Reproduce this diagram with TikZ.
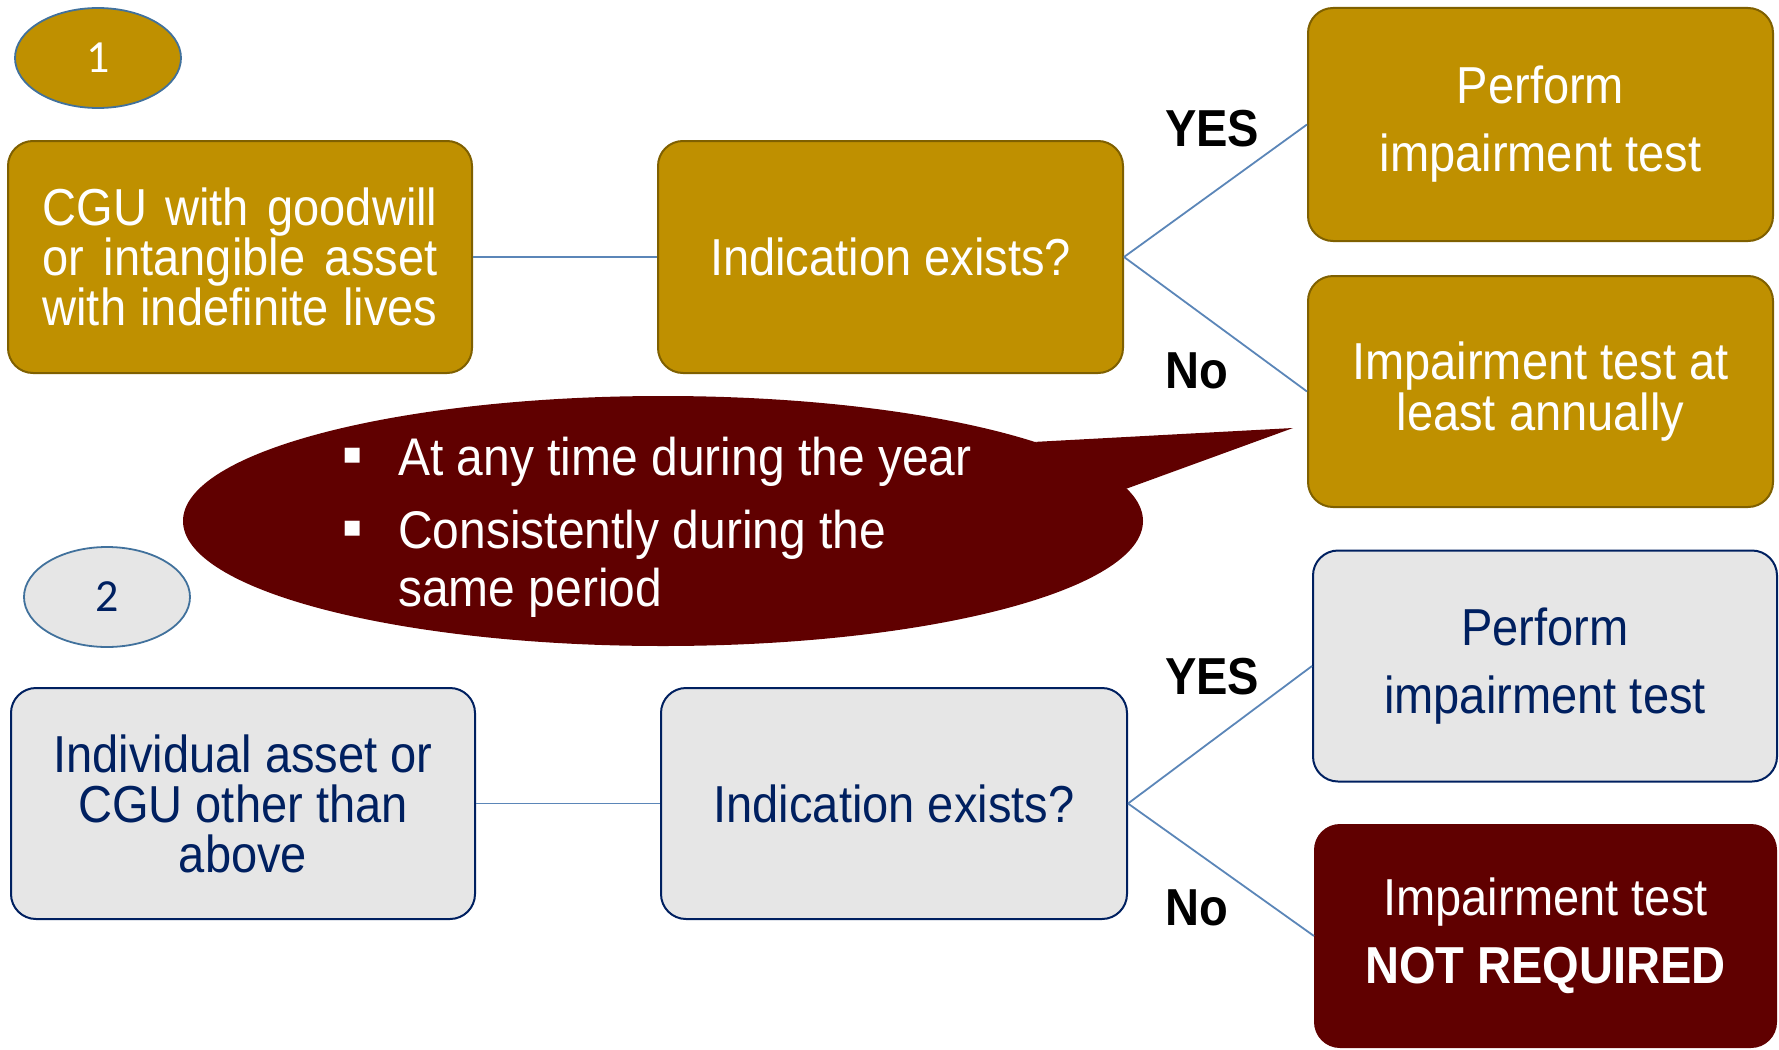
\documentclass[tikz,border=0pt]{standalone}
\usepackage{fontspec}
\setmainfont[FakeStretch=0.905]{Liberation Sans}
\newfontfamily\numfont{Carlito}
\newfontfamily\symfont{DejaVu Sans}
\usetikzlibrary{shapes.geometric}
\definecolor{gold}{HTML}{BF9000}
\definecolor{goldline}{HTML}{7F6000}
\definecolor{maroon}{HTML}{600000}
\definecolor{navy}{HTML}{002060}
\definecolor{boxgray}{HTML}{E6E6E6}
\definecolor{linkblue}{HTML}{5B86B8}
\definecolor{ellline}{HTML}{41719C}
\tikzset{
  basebox/.style={rounded corners=25pt, line width=2pt, align=center, inner sep=0pt},
  goldbox/.style={basebox, draw=goldline, fill=gold, text=white},
  graybox/.style={basebox, draw=navy, fill=boxgray, text=navy},
  redbox/.style={basebox, draw=maroon, fill=maroon, text=white},
  link/.style={draw=linkblue, line width=1.8pt},
  lbl/.style={anchor=west, inner sep=0pt, font=\fontsize{52}{52}\selectfont\bfseries},
  numell/.style={ellipse, draw=ellline, line width=1.8pt, minimum width=166pt, minimum height=100pt, inner sep=0pt, font=\numfont\fontsize{46}{46}\selectfont},
  bultext/.style={anchor=base west, inner sep=0pt, text=white, font=\fontsize{53}{53}\selectfont},
  bulmark/.style={inner sep=0pt, text=white, font=\symfont\fontsize{30}{30}\selectfont}
}
\begin{document}
\begin{tikzpicture}[x=1pt,y=-1pt]
\useasboundingbox (0,0) rectangle (1779,1049);

% numbered ellipses
\node[numell, fill=gold, text=white] (e1) at (98,58) {1};
\node[numell, fill=boxgray, text=navy] (e2) at (107,597) {2};

% row 1
\node[goldbox, minimum width=464pt, minimum height=232pt, font=\fontsize{52}{50}\selectfont] (cgu) at (240,257)
  {\makebox[395pt][s]{CGU with goodwill}\\\makebox[395pt][s]{or intangible asset}\\\makebox[395pt][s]{with indefinite lives}};
\node[goldbox, minimum width=465pt, minimum height=232pt, font=\fontsize{52}{50}\selectfont] (ind1) at (890.5,257) {Indication exists?};
\node[goldbox, minimum width=465pt, minimum height=233pt, font=\fontsize{52}{68}\selectfont] (perf1) at (1540.5,124.5) {Perform\\impairment test};
\node[goldbox, minimum width=465pt, minimum height=231pt, font=\fontsize{52}{51}\selectfont] (imp1) at (1540.5,391.5) {Impairment test at\\least annually};

% row 2
\node[graybox, minimum width=464pt, minimum height=231pt, font=\fontsize{52}{50}\selectfont] (indiv) at (243,803.5) {Individual asset or\\CGU other than\\above};
\node[graybox, minimum width=466pt, minimum height=231pt, font=\fontsize{52}{50}\selectfont] (ind2) at (894,803.5) {Indication exists?};
\node[graybox, minimum width=464pt, minimum height=231pt, font=\fontsize{52}{68}\selectfont] (perf2) at (1545,666) {Perform\\impairment test};
\node[redbox, minimum width=461pt, minimum height=222pt, font=\fontsize{52}{68}\selectfont] (notreq) at (1545.5,936) {Impairment test\\\textbf{NOT REQUIRED}};

% connectors
\draw[link] (cgu.east) -- (ind1.west);
\draw[link] (ind1.east) -- (perf1.west);
\draw[link] (ind1.east) -- (imp1.west);
\draw[link] (indiv.east) -- (ind2.west);
\draw[link] (ind2.east) -- (perf2.west);
\draw[link] (ind2.east) -- (notreq.west);

% labels
\node[lbl] (y1) at (1165,129) {YES};
\node[lbl] (n1) at (1165,371) {No};
\node[lbl] (y2) at (1165,677) {YES};
\node[lbl] (n2) at (1165,908) {No};

% callout bubble
\node[ellipse, fill=maroon, minimum width=960pt, minimum height=250pt, inner sep=0pt] (bubble) at (663,521) {};
\coordinate (tip) at (1293,428);
\fill[maroon] (bubble.12.5) -- (tip) -- (bubble.4.9) -- cycle;
\node[bulmark] (b1) at (353,456) {▪};
\node[bulmark] (b2) at (353,529) {▪};
\node[bultext] (t1) at (398,475) {At any time during the year};
\node[bultext] (t2) at (398,548) {Consistently during the};
\node[bultext] (t3) at (398,606) {same period};
\end{tikzpicture}
\end{document}
